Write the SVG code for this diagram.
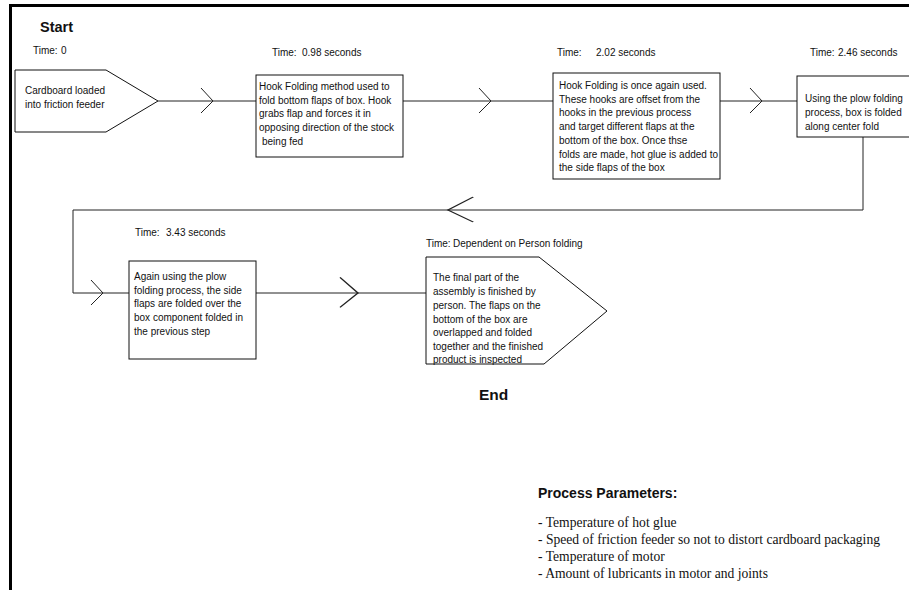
<svg xmlns="http://www.w3.org/2000/svg" xmlns:xlink="http://www.w3.org/1999/xlink" width="909" height="590" viewBox="0 0 909 590">
<style>
text{font-family:"Liberation Sans",Arial,sans-serif;fill:#111;}
.t{font-size:10px;}
.h{font-size:14.5px;font-weight:bold;}
.p{font-family:"Liberation Serif","Times New Roman",serif;font-size:13.6px;}
.box{fill:#fff;stroke:#111;stroke-width:1;}
.ln{fill:none;stroke:#222;stroke-width:1;}
.frame{fill:none;stroke:#000;stroke-width:3;}
</style>
<defs>
<path id="chev" d="M-12,-13 L0,0 L-12,12" fill="none" stroke="#222" stroke-width="1"/>
</defs>
<rect width="909" height="590" fill="#fff"/>
<path class="frame" d="M10.5,590 V5.5 H909"/>
<text class="h" x="40" y="32">Start</text>
<text class="h" x="479" y="400" style="font-size:15.5px">End</text>

<g id="connectors">
<path class="ln" d="M158,101 H256"/>
<path class="ln" d="M403,101 H553"/>
<path class="ln" d="M720,101 H797"/>
<path class="ln" d="M863,137 V210 H73 V293 H129"/>
<path class="ln" d="M256,293 H426"/>
<use xlink:href="#chev" transform="translate(213,101)"/>
<use xlink:href="#chev" transform="translate(491,101)"/>
<use xlink:href="#chev" transform="translate(762,101)"/>
<use xlink:href="#chev" transform="translate(448,210) scale(-2.1,1)"/>
<use xlink:href="#chev" transform="translate(103,293)"/>
<use xlink:href="#chev" transform="translate(358,293) scale(1.5,1.2)"/>
</g>

<g id="n1">
<polygon class="box" points="15,70 106,70 158,101 106,132 15,132"/>
<text class="t" x="33" y="54">Time:<tspan x="61">0</tspan></text>
<text class="t" x="25" y="94">Cardboard loaded</text>
<text class="t" x="25" y="108">into friction feeder</text>
</g>

<g id="n2">
<rect class="box" x="256" y="75" width="147" height="82"/>
<text class="t" x="272" y="56">Time:<tspan x="302">0.98 seconds</tspan></text>
<text class="t" x="259" y="90">Hook Folding method used to</text>
<text class="t" x="259" y="104">fold bottom flaps of box. Hook</text>
<text class="t" x="259" y="117">grabs flap and forces it in</text>
<text class="t" x="259" y="131">opposing direction of the stock</text>
<text class="t" x="262" y="145">being fed</text>
</g>

<g id="n3">
<rect class="box" x="553" y="73" width="167" height="106"/>
<text class="t" x="557" y="56">Time:<tspan x="596">2.02 seconds</tspan></text>
<text class="t" x="559" y="89">Hook Folding is once again used.</text>
<text class="t" x="559" y="103">These hooks are offset from the</text>
<text class="t" x="559" y="116">hooks in the previous process</text>
<text class="t" x="559" y="130">and target different flaps at the</text>
<text class="t" x="559" y="144">bottom of the box. Once thse</text>
<text class="t" x="559" y="158">folds are made, hot glue is added to</text>
<text class="t" x="559" y="171">the side flaps of the box</text>
</g>

<g id="n4">
<rect class="box" x="797" y="76" width="130" height="61"/>
<text class="t" x="810" y="56">Time:<tspan x="838">2.46 seconds</tspan></text>
<text class="t" x="805" y="102">Using the plow folding</text>
<text class="t" x="805" y="116">process, box is folded</text>
<text class="t" x="805" y="130">along center fold</text>
</g>

<g id="n5">
<rect class="box" x="129" y="261" width="127" height="98"/>
<text class="t" x="135" y="236">Time:<tspan x="166">3.43 seconds</tspan></text>
<text class="t" x="134" y="280">Again using the plow</text>
<text class="t" x="134" y="294">folding process, the side</text>
<text class="t" x="134" y="307">flaps are folded over the</text>
<text class="t" x="134" y="321">box component folded in</text>
<text class="t" x="134" y="335">the previous step</text>
</g>

<g id="n6">
<polygon class="box" points="426,257 539,257 607,311 544,364 426,364"/>
<text class="t" x="426" y="247">Time:<tspan x="453">Dependent on Person folding</tspan></text>
<text class="t" x="433" y="281">The final part of the</text>
<text class="t" x="433" y="295">assembly is finished by</text>
<text class="t" x="433" y="309">person. The flaps on the</text>
<text class="t" x="433" y="323">bottom of the box are</text>
<text class="t" x="433" y="336">overlapped and folded</text>
<text class="t" x="433" y="350">together and the finished</text>
<text class="t" x="433" y="363">product is inspected</text>
</g>

<g id="params">
<text class="h" x="538" y="498" style="font-size:14px">Process Parameters:</text>
<text class="p" x="538" y="527">- Temperature of hot glue</text>
<text class="p" x="538" y="544">- Speed of friction feeder so not to distort cardboard packaging</text>
<text class="p" x="538" y="561">- Temperature of motor</text>
<text class="p" x="538" y="578">- Amount of lubricants in motor and joints</text>
</g>
</svg>
